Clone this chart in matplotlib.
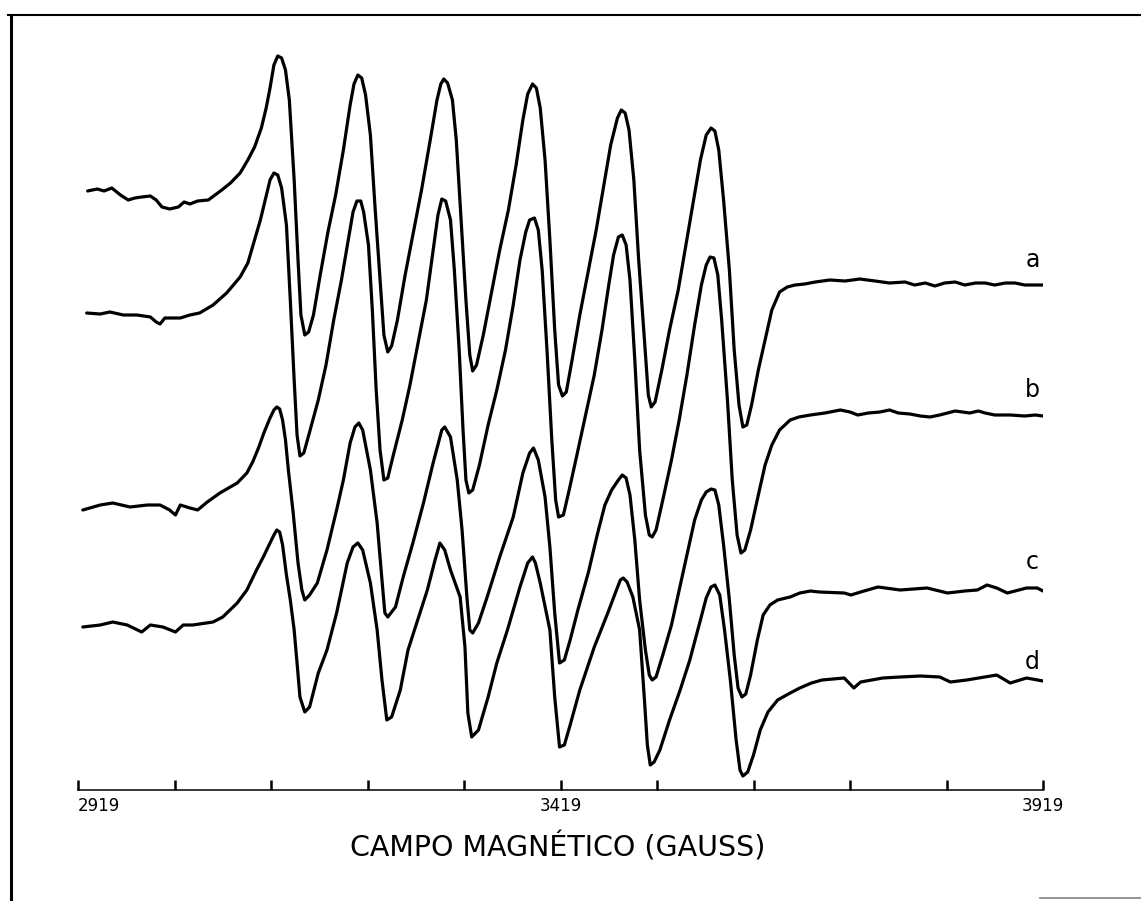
import matplotlib.pyplot as plt
from matplotlib.lines import Line2D

# EPR spectra (first-derivative), field in gauss, signal in arbitrary units
field_a = [2929, 2939, 2946, 2954, 2963, 2971, 2978, 2985, 2994, 3000, 3006, 3014,
           3023, 3029, 3035, 3043, 3054, 3061, 3068, 3077, 3087, 3095, 3102, 3109,
           3114, 3118, 3122, 3126, 3130, 3134, 3138, 3143, 3147, 3150, 3154, 3158,
           3163, 3170, 3178, 3186, 3194, 3201, 3205, 3209, 3213, 3217, 3222, 3227,
           3232, 3236, 3240, 3244, 3250, 3258, 3267, 3275, 3284, 3291, 3295, 3298,
           3302, 3307, 3311, 3316, 3321, 3325, 3328, 3332, 3339, 3348, 3356, 3365,
           3373, 3380, 3385, 3390, 3394, 3398, 3403, 3408, 3413, 3417, 3421, 3425,
           3431, 3439, 3448, 3456, 3464, 3471, 3478, 3482, 3486, 3490, 3495, 3500,
           3506, 3510, 3513, 3517, 3524, 3532, 3541, 3549, 3557, 3564, 3570, 3575,
           3579, 3583, 3588, 3594, 3599, 3604, 3608, 3612, 3617, 3624, 3631, 3638,
           3646, 3654, 3662, 3672, 3683, 3698, 3714, 3729, 3745, 3760, 3776, 3786,
           3797, 3807, 3817, 3828, 3838, 3849, 3859, 3869, 3880, 3890, 3900, 3908, 3919]
signal_a = [599, 601, 599, 602, 595, 590, 592, 593, 594, 590, 583, 581,
            583, 588, 586, 589, 590, 595, 600, 607, 617, 630, 643, 662,
            682, 702, 725, 734, 732, 720, 690, 610, 530, 475, 455, 458,
            475, 515, 558, 595, 640, 685, 706, 715, 712, 695, 655, 580,
            510, 455, 438, 444, 470, 515, 560, 600, 650, 690, 706, 711,
            707, 690, 650, 570, 490, 435, 419, 425, 455, 500, 540, 580,
            625, 670, 696, 706, 702, 682, 630, 550, 460, 405, 394, 398,
            430, 475, 520, 560, 605, 645, 672, 680, 677, 660, 610, 530,
            450, 395, 383, 388, 420, 460, 500, 545, 590, 630, 655, 662,
            659, 640, 590, 520, 440, 385, 363, 365, 385, 420, 450, 480,
            498, 503, 505, 506, 508, 510, 509, 511, 509, 507, 508, 505,
            507, 504, 507, 508, 505, 507, 507, 505, 507, 507, 505, 505, 505]

field_b = [2928, 2942, 2952, 2966, 2980, 2994, 3000, 3004, 3009, 3016, 3025, 3035,
           3045, 3059, 3073, 3087, 3095, 3101, 3108, 3114, 3118, 3122, 3126, 3130,
           3135, 3139, 3143, 3146, 3149, 3153, 3159, 3168, 3176, 3184, 3192, 3199,
           3204, 3208, 3212, 3215, 3220, 3224, 3228, 3232, 3236, 3240, 3245, 3255,
           3263, 3271, 3280, 3287, 3292, 3296, 3300, 3305, 3309, 3314, 3318, 3321,
           3324, 3328, 3335, 3344, 3353, 3362, 3370, 3377, 3383, 3387, 3392, 3396,
           3400, 3405, 3410, 3414, 3417, 3422, 3428, 3436, 3445, 3454, 3462, 3469,
           3474, 3479, 3483, 3487, 3491, 3496, 3501, 3507, 3511, 3514, 3518, 3525,
           3534, 3542, 3550, 3558, 3565, 3570, 3574, 3578, 3582, 3586, 3592, 3597,
           3602, 3606, 3610, 3616, 3624, 3631, 3638, 3646, 3657, 3666, 3678, 3693,
           3709, 3719, 3727, 3738, 3750, 3760, 3769, 3781, 3792, 3802, 3812, 3828,
           3843, 3852, 3859, 3869, 3885, 3900, 3911, 3919]
signal_b = [477, 476, 478, 475, 475, 473, 468, 466, 472, 472, 472, 475,
            477, 485, 497, 513, 527, 547, 570, 594, 610, 617, 615, 602,
            565, 490, 410, 355, 334, 337, 358, 390, 425, 470, 510, 550,
            578, 589, 589, 578, 545, 480, 400, 340, 310, 312, 332, 370,
            405, 445, 490, 540, 575, 591, 589, 570, 520, 440, 360, 310,
            297, 300, 325, 365, 400, 440, 485, 530, 558, 570, 572, 560,
            520, 440, 350, 290, 273, 275, 300, 335, 375, 415, 460, 505,
            535, 553, 555, 545, 510, 430, 340, 275, 255, 253, 260, 290,
            330, 370, 415, 465, 505, 525, 533, 532, 515, 470, 390, 310,
            255, 237, 240, 260, 295, 325, 345, 360, 370, 373, 375, 377,
            380, 378, 375, 377, 378, 380, 377, 376, 374, 373, 375, 379,
            377, 379, 377, 375, 375, 374, 375, 374]

field_c = [2924, 2942, 2955, 2973, 2991, 3004, 3014, 3020, 3025, 3035, 3043, 3053,
           3066, 3084, 3094, 3100, 3106, 3112, 3118, 3122, 3125, 3128, 3131, 3134,
           3137, 3142, 3147, 3151, 3154, 3159, 3167, 3177, 3187, 3194, 3201, 3206,
           3210, 3214, 3222, 3229, 3234, 3237, 3240, 3248, 3256, 3266, 3277, 3287,
           3296, 3299, 3305, 3312, 3317, 3322, 3325, 3328, 3334, 3343, 3356, 3370,
           3380, 3387, 3391, 3396, 3403, 3408, 3413, 3418, 3423, 3429, 3437, 3448,
           3457, 3465, 3472, 3479, 3483, 3487, 3491, 3496, 3501, 3507, 3511, 3514,
           3518, 3525, 3534, 3542, 3550, 3558, 3565, 3570, 3575, 3579, 3583, 3588,
           3594, 3599, 3603, 3607, 3611, 3616, 3623, 3629, 3636, 3644, 3657, 3667,
           3678, 3687, 3713, 3720, 3730, 3748, 3771, 3799, 3820, 3838, 3851, 3861,
           3871, 3882, 3902, 3913, 3919]
signal_c = [280, 285, 287, 283, 285, 285, 280, 275, 285, 282, 280, 288,
            297, 307, 317, 328, 342, 358, 372, 380, 383, 381, 370, 350,
            320, 277, 227, 200, 190, 195, 207, 240, 280, 310, 347, 363,
            367, 360, 320, 267, 210, 177, 173, 183, 213, 247, 287, 327,
            360, 363, 353, 310, 260, 193, 160, 157, 167, 193, 233, 273,
            317, 337, 342, 330, 293, 243, 177, 127, 130, 150, 180, 218,
            255, 285, 300, 310, 315, 312, 295, 250, 190, 140, 115, 110,
            113, 135, 165, 200, 235, 270, 290, 298, 301, 300, 285, 245,
            190, 135, 102, 93, 96, 115, 150, 175, 185, 190, 193, 197,
            199, 198, 197, 195, 198, 203, 200, 202, 197, 199, 200, 205,
            202, 197, 202, 202, 199]

field_d = [2924, 2942, 2955, 2970, 2985, 2994, 3007, 3020, 3028, 3038, 3059, 3069,
           3084, 3094, 3104, 3111, 3118, 3122, 3125, 3128, 3131, 3135, 3139, 3143,
           3146, 3149, 3154, 3159, 3168, 3177, 3187, 3198, 3204, 3209, 3214, 3222,
           3229, 3234, 3239, 3244, 3253, 3261, 3270, 3281, 3289, 3294, 3299, 3305,
           3315, 3320, 3323, 3327, 3334, 3344, 3353, 3364, 3377, 3385, 3390, 3393,
           3398, 3408, 3413, 3418, 3423, 3429, 3439, 3454, 3468, 3477, 3481, 3484,
           3488, 3494, 3501, 3506, 3509, 3512, 3516, 3522, 3532, 3543, 3553, 3564,
           3570, 3575, 3579, 3584, 3589, 3595, 3601, 3605, 3608, 3613, 3619, 3626,
           3634, 3644, 3657, 3667, 3679, 3690, 3713, 3723, 3730, 3753, 3771, 3792,
           3812, 3823, 3840, 3871, 3885, 3902, 3919]
signal_d = [163, 165, 168, 165, 158, 165, 163, 158, 165, 165, 168, 173,
            187, 200, 220, 233, 247, 255, 260, 258, 245, 215, 190, 160,
            127, 93, 78, 83, 117, 140, 177, 227, 243, 247, 240, 207,
            160, 110, 70, 73, 100, 140, 167, 200, 230, 247, 240, 220,
            193, 143, 77, 53, 60, 93, 127, 160, 203, 227, 233, 227,
            207, 160, 93, 43, 45, 65, 100, 143, 177, 200, 210, 212,
            208, 193, 160, 90, 45, 25, 28, 40, 70, 100, 130, 170,
            192, 203, 205, 195, 160, 110, 50, 20, 14, 18, 35, 60,
            78, 90, 97, 102, 107, 110, 112, 102, 108, 112, 113, 114,
            113, 108, 110, 115, 107, 112, 109]

trace_names = ["a", "b", "c", "d"]
name_field = 3908
name_signal = [530, 400, 228, 128]

tick_values = [2919, 3019, 3119, 3219, 3319, 3419, 3519, 3619, 3719, 3819, 3919]
tick_labels = ["2919", "", "", "", "", "3419", "", "", "", "", "3919"]

fig = plt.figure(figsize=(11.41, 9.01), dpi=100)
ax = fig.add_axes([78 / 1141, 111 / 901, 965 / 1141, 775 / 901])

traces = [(field_a, signal_a), (field_b, signal_b), (field_c, signal_c), (field_d, signal_d)]
for field, signal in traces:
    ax.plot(field, signal, color="black", lw=2.3, solid_joinstyle="round",
            solid_capstyle="round")

for name, y in zip(trace_names, name_signal):
    ax.text(name_field, y, name, fontsize=17, ha="center", va="center")

ax.set_xlim(2919, 3919)
ax.set_ylim(0, 775)
ax.set_yticks([])
for side in ["top", "left", "right"]:
    ax.spines[side].set_visible(False)
ax.spines["bottom"].set_linewidth(1.1)
ax.patch.set_alpha(0)

ax.set_xticks(tick_values)
ax.set_xticklabels(tick_labels)
ax.tick_params(axis="x", direction="in", length=7, width=1.8, pad=5, labelsize=12)
ax.get_xticklabels()[0].set_ha("left")

fig.text(558 / 1141, 1 - 847 / 901, "CAMPO MAGNÉTICO (GAUSS)", fontsize=20.5,
         ha="center", va="center")

# border of the plate
fig.add_artist(Line2D([11 / 1141, 11 / 1141], [0, 1 - 15 / 901],
                      transform=fig.transFigure, color="black", lw=2.2))
fig.add_artist(Line2D([8 / 1141, 1], [1 - 15 / 901, 1 - 15 / 901],
                      transform=fig.transFigure, color="black", lw=1.5))
fig.add_artist(Line2D([1040 / 1141, 1], [3 / 901, 3 / 901],
                      transform=fig.transFigure, color="0.5", lw=1.2))

fig.savefig("out.png", dpi=100)
plt.close(fig)
